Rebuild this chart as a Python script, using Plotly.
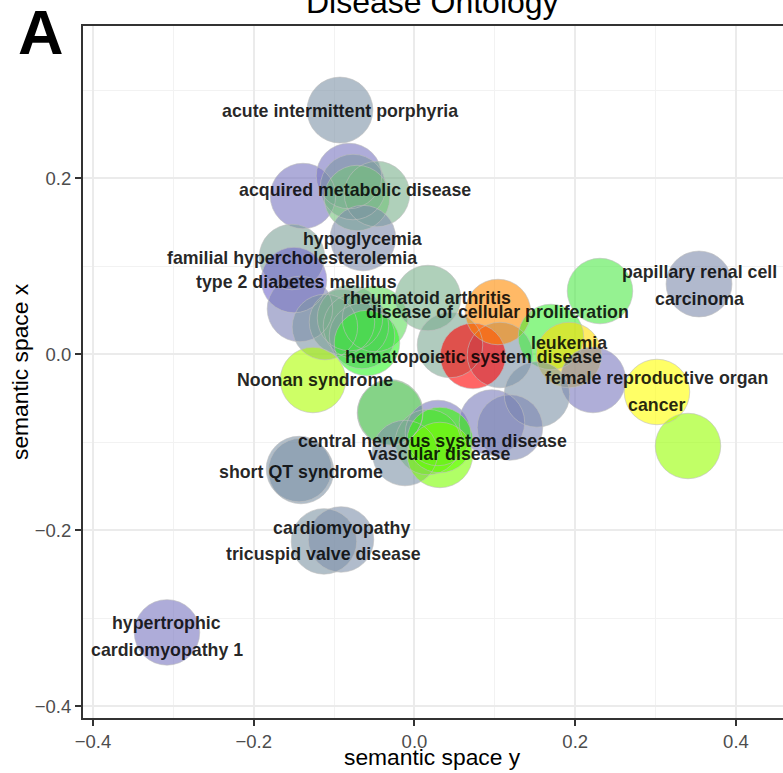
import numpy as np
import plotly.graph_objects as go

# ---- term coordinates in semantic space, term size and significance ----
term_x = [-0.0927, -0.1387, -0.0815, -0.0467, -0.0765, -0.0715, -0.0641,
          -0.1524, -0.1499, -0.1425, -0.0491, -0.1114, -0.0902, -0.0728,
          -0.0653, -0.0802, -0.0591, 0.0168, 0.0442, 0.1064, 0.0728,
          0.1039, 0.1698, 0.1922, 0.2221, 0.1524, 0.0964, 0.1188, 0.2308,
          0.3540, 0.3017, 0.3403, -0.1263, -0.0305, -0.0300, 0.0292,
          -0.0118, 0.0168, 0.0317, 0.0317, -0.1437, -0.1412, -0.1126,
          -0.0914, -0.3079]
term_y = [0.2775, 0.1798, 0.2025, 0.1820, 0.1900, 0.1775, 0.1320,
          0.1105, 0.0843, 0.0514, 0.0400, 0.0309, 0.0366, 0.0320,
          0.0207, 0.0411, 0.0127, 0.0639, 0.0105, -0.0009, -0.0020,
          0.0480, 0.0196, -0.0009, -0.0293, -0.0457, -0.0776, -0.0832,
          0.0718, 0.0798, -0.0429, -0.1043, -0.0293, -0.0667, -0.0660,
          -0.0895, -0.1123, -0.0998, -0.0975, -0.1145, -0.1305, -0.1327,
          -0.2127, -0.2105, -0.3161]
plot_size = [4.55, 4.5, 4.5, 4.5, 4.5, 4.5, 4.5,
             4.5, 4.5, 4.5, 4.5, 4.5, 4.5, 4.5,
             4.5, 4.5, 4.5, 4.5, 4.5, 4.5, 4.5,
             4.5, 4.5, 4.5, 4.5, 4.5, 4.5, 4.5, 4.5,
             4.55, 4.5, 4.5, 4.5, 4.5, 4.5, 4.5,
             4.5, 4.5, 4.5, 4.5, 4.5, 4.5, 4.5,
             4.5, 4.5]
log10_p = [-8.35, -8.8, -8.8, -7.9, -8.3, -7.6, -8.45,
           -8.1, -9.0, -8.6, -7.2, -8.3, -8.1, -8.0,
           -8.3, -7.9, -6.8, -7.9, -8.0, -8.35, 0.0,
           -1.3, -6.9, -2.7, -8.75, -8.35, -8.7, -8.55, -7.0,
           -8.45, -3.33, -5.4, -5.0, -7.7, -7.4, -8.75,
           -8.35, -7.9, -6.5, -5.8, -8.35, -8.35, -8.3,
           -8.4, -8.8]

# ---- text labels (placed next to their terms) ----
label_lines = [["acute intermittent porphyria"], ["acquired metabolic disease"],
               ["hypoglycemia"], ["familial hypercholesterolemia"],
               ["type 2 diabetes mellitus"], ["rheumatoid arthritis"],
               ["disease of cellular proliferation"],
               ["hematopoietic system disease"], ["leukemia"],
               ["Noonan syndrome"], ["female reproductive organ", "cancer"],
               ["papillary renal cell", "carcinoma"],
               ["central nervous system disease"], ["vascular disease"],
               ["short QT syndrome"], ["cardiomyopathy"],
               ["tricuspid valve disease"],
               ["hypertrophic", "cardiomyopathy 1"]]
label_x = [-0.0927, -0.0740, -0.0641, -0.1524, -0.1474, 0.0156, 0.1039,
           0.0740, 0.1922, -0.1238, 0.3017, 0.3540, 0.0230, 0.0305,
           -0.1412, -0.0914, -0.1126, -0.3079]
label_y = [0.2764, 0.1866, 0.1309, 0.1093, 0.0820, 0.0639, 0.0480,
           -0.0032, 0.0127, -0.0293, -0.0429, 0.0786, -0.0991, -0.1139,
           -0.1338, -0.1975, -0.2270, -0.3207]

x_ticks = [-0.4, -0.2, 0.0, 0.2, 0.4]
y_ticks = [-0.4, -0.2, 0.0, 0.2]

FONT = "Liberation Sans, Arial, Helvetica, sans-serif"


# colour ramp blue -> green -> yellow -> red, interpolated in CIE Lab
_M = np.array([[0.4124564, 0.3575761, 0.1804375],
               [0.2126729, 0.7151522, 0.0721750],
               [0.0193339, 0.1191920, 0.9503041]])
_WHITE = np.array([0.95047, 1.0, 1.08883])


def rgb_to_lab(rgb):
    c = np.asarray(rgb, float) / 255.0
    lin = np.where(c <= 0.04045, c / 12.92, ((c + 0.055) / 1.055) ** 2.4)
    xyz = _M @ lin / _WHITE
    d = 6 / 29
    f = np.where(xyz > d ** 3, np.cbrt(xyz), xyz / (3 * d * d) + 4 / 29)
    return np.array([116 * f[1] - 16, 500 * (f[0] - f[1]), 200 * (f[1] - f[2])])


def lab_to_rgb(lab):
    L, a, b = lab
    fy = (L + 16) / 116
    f = np.array([fy + a / 500, fy, fy - b / 200])
    d = 6 / 29
    xyz = np.where(f > d, f ** 3, 3 * d * d * (f - 4 / 29)) * _WHITE
    lin = np.clip(np.linalg.solve(_M, xyz), 0, 1)
    c = np.where(lin <= 0.0031308, 12.92 * lin, 1.055 * lin ** (1 / 2.4) - 0.055)
    return np.clip(np.round(c * 255), 0, 255).astype(int)


anchors = [rgb_to_lab(c) for c in [(0, 0, 255), (0, 255, 0), (255, 255, 0), (255, 0, 0)]]
colorscale = []
for t in np.linspace(0, 1, 61):
    seg = min(int(t * 3), 2)
    u = t * 3 - seg
    lab = anchors[seg] * (1 - u) + anchors[seg + 1] * u
    r, g, b = lab_to_rgb(lab)
    colorscale.append([float(t), f"rgb({r},{g},{b})"])

P_MIN = -10.0
# plotly area sizing: diameter = 2 * sqrt(size / (2 * sizeref))
DIAMETER = 65.5
size_ref = 2 * 4.5 / DIAMETER ** 2

fig = go.Figure()
fig.add_trace(go.Scatter(
    x=term_x, y=term_y, mode="markers", hoverinfo="skip",
    marker=dict(size=plot_size, sizemode="area", sizeref=size_ref,
                color=log10_p, colorscale=colorscale, cmin=P_MIN, cmax=0,
                opacity=0.6, line=dict(width=0)),
    showlegend=False))
# thin outlines drawn on top of all the filled circles
fig.add_trace(go.Scatter(
    x=term_x, y=term_y, mode="markers", hoverinfo="skip",
    marker=dict(size=plot_size, sizemode="area", sizeref=size_ref,
                color="rgba(0,0,0,0)",
                line=dict(width=1, color="rgba(190,190,190,0.85)")),
    showlegend=False))

annotations = []
LINE_GAP = 27
for lines, lx, ly in zip(label_lines, label_x, label_y):
    n = len(lines)
    for i, txt in enumerate(lines):
        shift = ((n - 1) / 2 - i) * LINE_GAP
        annotations.append(dict(
            x=lx, y=ly, xref="x", yref="y", text=txt, showarrow=False,
            xanchor="center", yanchor="middle", yshift=shift,
            font=dict(family=FONT, size=17.8, color="rgba(0,0,0,0.85)",
                      weight="bold")))

# title, panel tag and axis titles
annotations += [
    dict(x=0.4993, y=1.034, xref="paper", yref="paper", text="Disease Ontology",
         showarrow=False, xanchor="center", yanchor="middle",
         font=dict(family=FONT, size=32, color="black")),
    dict(x=-0.06, y=0.991, xref="paper", yref="paper", text="A",
         showarrow=False, xanchor="center", yanchor="middle",
         font=dict(family=FONT, size=63, color="black", weight="bold")),
    dict(x=0.4993, y=-0.0564, xref="paper", yref="paper", text="semantic space y",
         showarrow=False, xanchor="center", yanchor="middle",
         font=dict(family=FONT, size=22.8, color="black")),
    dict(x=-0.09, y=0.5, xref="paper", yref="paper", text="semantic space x",
         showarrow=False, xanchor="center", yanchor="middle", textangle=-90,
         font=dict(family=FONT, size=22.8, color="black")),
]

axis_common = dict(
    showgrid=True, gridcolor="#ebebeb", gridwidth=2, zeroline=False,
    showline=True, linecolor="#333333", linewidth=2,
    ticks="outside", ticklen=6, tickwidth=2, tickcolor="#333333",
    tickfont=dict(family=FONT, size=18.5, color="#4d4d4d"),
    tickformat=".1f",
    minor=dict(dtick=0.1, showgrid=True, gridcolor="#f2f2f2", gridwidth=1,
               ticks=""),
)

fig.update_layout(
    width=783, height=773, autosize=False,
    margin=dict(l=83, r=0, t=26, b=55, pad=0),
    paper_bgcolor="white", plot_bgcolor="white",
    xaxis=dict(range=[-0.4124, 0.4585], tickvals=x_ticks, mirror=True,
               **axis_common),
    yaxis=dict(range=[-0.4134, 0.3730], tickvals=y_ticks, mirror=False,
               **axis_common),
    annotations=annotations,
    showlegend=False,
)
fig.update_xaxes(minor=dict(tick0=-0.3))
fig.update_yaxes(minor=dict(tick0=-0.3))

fig.write_html("out.html")
